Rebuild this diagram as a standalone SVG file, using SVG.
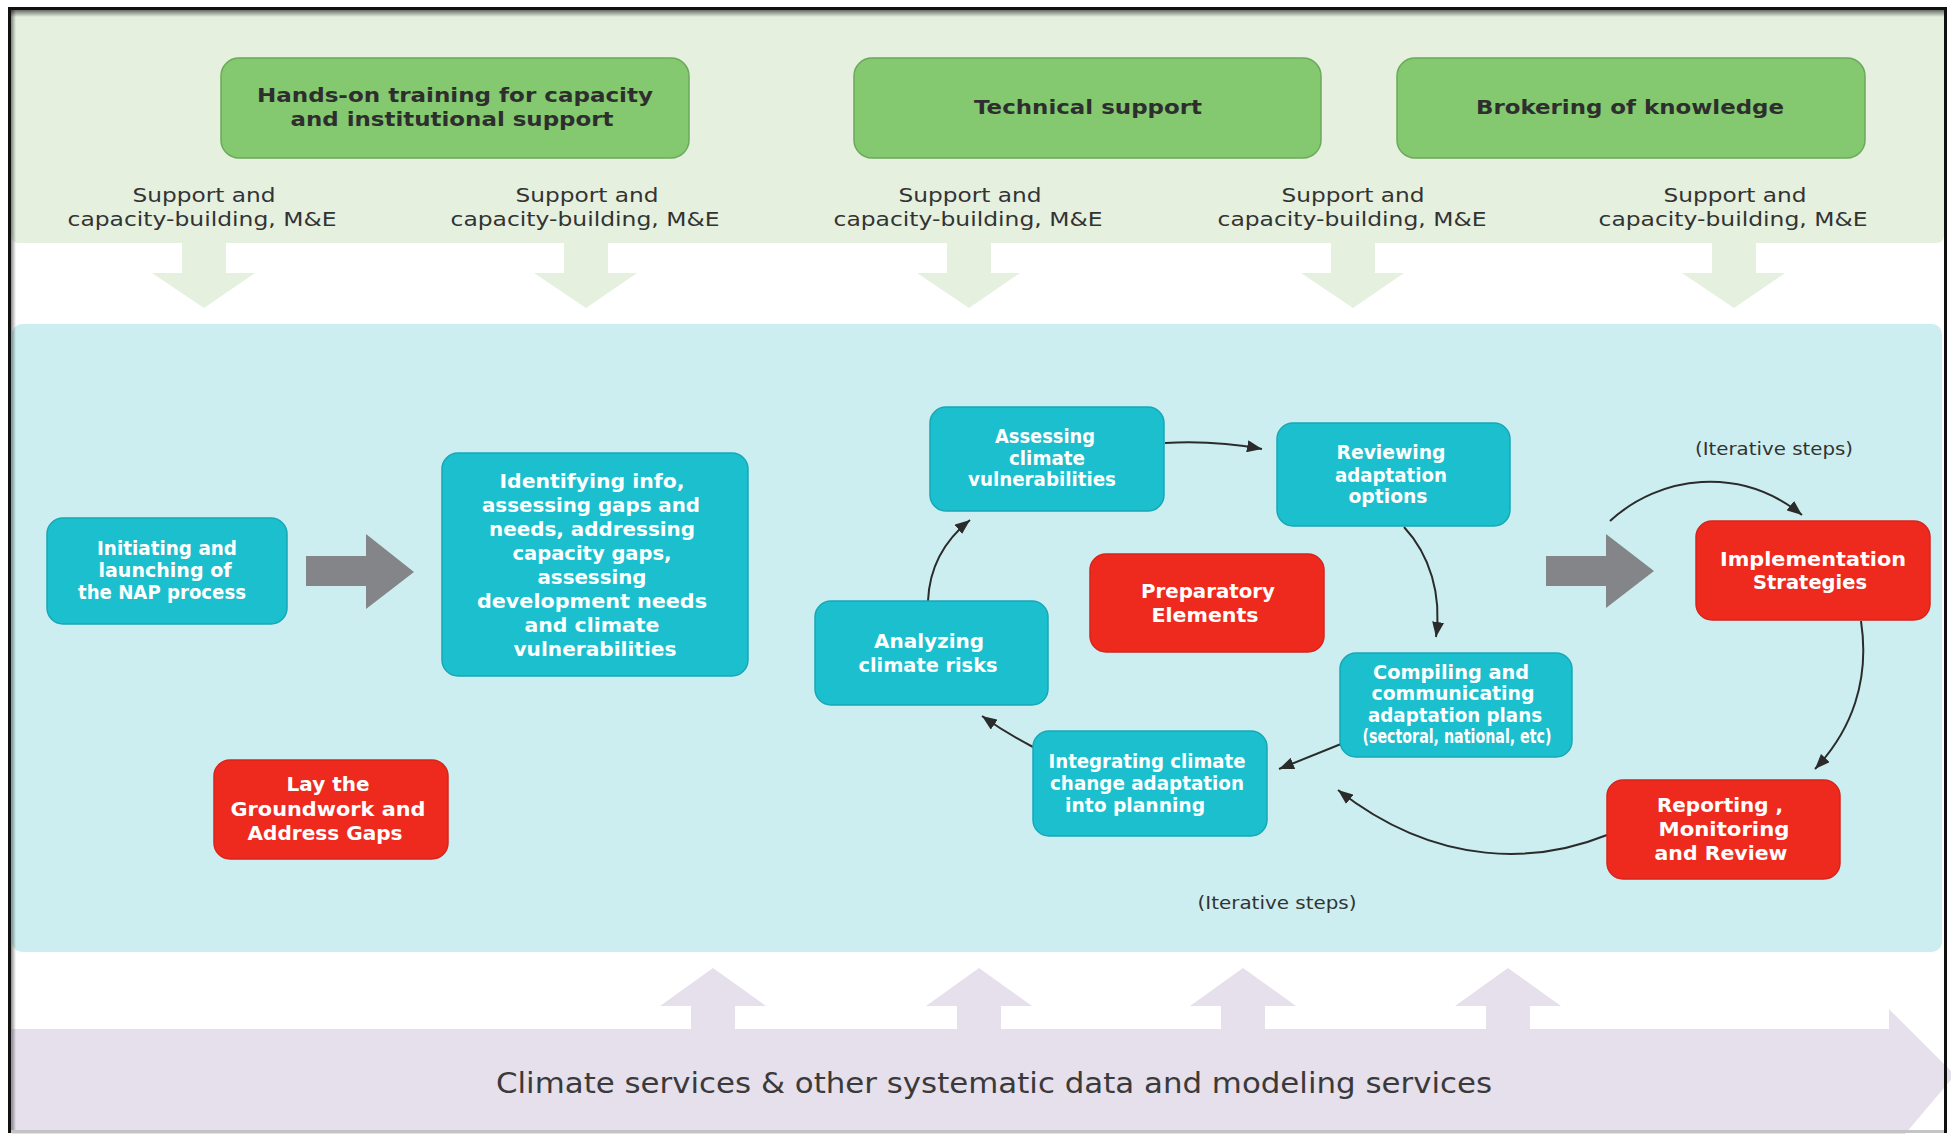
<svg xmlns="http://www.w3.org/2000/svg" width="1951" height="1134" viewBox="0 0 1951 1134">
<style>
.gbox{fill:#84c870;stroke:#6aa95a;stroke-width:1.5}
.tbox{fill:#1cbfce;stroke:#17a8b6;stroke-width:1.5}
.rbox{fill:#ee2a1f;stroke:#d8241b;stroke-width:1.5}
.gt{font-family:"DejaVu Sans","Liberation Sans",sans-serif;font-weight:bold;font-size:20px;fill:#2e2e2e;text-anchor:middle}
.st{font-family:"DejaVu Sans","Liberation Sans",sans-serif;font-size:19px;fill:#333;text-anchor:middle}
.wt{font-family:"DejaVu Sans","Liberation Sans",sans-serif;font-weight:bold;font-size:19px;fill:#fff;text-anchor:middle}
.it{font-family:"DejaVu Sans","Liberation Sans",sans-serif;font-size:17px;fill:#333;text-anchor:middle}
.con{fill:none;stroke:#2b2b2b;stroke-width:2;marker-end:url(#ah)}
.garr{fill:#e5f0df}
.parr{fill:#e6dfec}
.blk{fill:#848589}
</style>
<defs>
<marker id="ah" markerWidth="15" markerHeight="12" refX="15" refY="6" orient="auto" markerUnits="userSpaceOnUse">
<path d="M0,0 L15,6 L0,12 z" fill="#2b2b2b"/>
</marker>
<linearGradient id="shT" x1="0" y1="0" x2="0" y2="1">
<stop offset="0" stop-color="#000" stop-opacity="0.55"/>
<stop offset="1" stop-color="#000" stop-opacity="0"/>
</linearGradient>
<linearGradient id="shL" x1="0" y1="0" x2="1" y2="0">
<stop offset="0" stop-color="#000" stop-opacity="0.45"/>
<stop offset="1" stop-color="#000" stop-opacity="0"/>
</linearGradient>
</defs>

<rect x="0" y="0" width="1951" height="1134" fill="#fff"/>

<!-- bands -->
<g id="bands">
<path d="M11,10 H1944 V235 Q1944,243 1936,243 H19 Q11,243 11,235 Z" fill="#e5f0df"/>
<rect x="12" y="324" width="1930" height="628" rx="10" fill="#cdeef0"/>
<polygon points="12,1029 1889,1029 1889,1009 1955,1075 1905,1134 12,1134" fill="#e6dfec"/>
</g>

<!-- down arrows from support band -->
<g id="support-arrows">
<polygon class="garr" points="182,242 226,242 226,273 255,273 204,308 152,273 182,273"/>
<polygon class="garr" points="564,242 608,242 608,273 637,273 586,308 534,273 564,273"/>
<polygon class="garr" points="947,242 991,242 991,273 1020,273 969,308 917,273 947,273"/>
<polygon class="garr" points="1331,242 1375,242 1375,273 1404,273 1353,308 1301,273 1331,273"/>
<polygon class="garr" points="1712,242 1756,242 1756,273 1785,273 1734,308 1682,273 1712,273"/>
</g>

<!-- up arrows from climate services -->
<g id="service-arrows">
<polygon class="parr" points="691,1030 691,1006 660,1006 713,968 766,1006 735,1006 735,1030"/>
<polygon class="parr" points="957,1030 957,1006 926,1006 979,968 1032,1006 1001,1006 1001,1030"/>
<polygon class="parr" points="1221,1030 1221,1006 1190,1006 1243,968 1296,1006 1265,1006 1265,1030"/>
<polygon class="parr" points="1486,1030 1486,1006 1455,1006 1508,968 1561,1006 1530,1006 1530,1030"/>
</g>

<!-- frame -->
<g id="frame">
<rect x="11" y="10" width="1933" height="7" fill="url(#shT)"/>
<rect x="11" y="10" width="5" height="1120" fill="url(#shL)"/>
<line x1="9" y1="1131.5" x2="1945" y2="1131.5" stroke="#c4c4c4" stroke-width="3"/>
<path d="M9.5,1133 V8.5 H1945.5 V1133" fill="none" stroke="#111" stroke-width="3"/>
</g>

<!-- top support nodes -->
<g id="node-training">
<rect class="gbox" x="221" y="58" width="468" height="100" rx="18"/>
<text class="gt" x="455" y="102" textLength="396" lengthAdjust="spacingAndGlyphs">Hands-on training for capacity</text>
<text class="gt" x="452" y="126" textLength="323" lengthAdjust="spacingAndGlyphs">and institutional support</text>
</g>
<g id="node-technical">
<rect class="gbox" x="854" y="58" width="467" height="100" rx="18"/>
<text class="gt" x="1088" y="114" textLength="228" lengthAdjust="spacingAndGlyphs">Technical support</text>
</g>
<g id="node-brokering">
<rect class="gbox" x="1397" y="58" width="468" height="100" rx="18"/>
<text class="gt" x="1630" y="114" textLength="308" lengthAdjust="spacingAndGlyphs">Brokering of knowledge</text>
</g>

<g id="support-labels">
<text class="st" x="204" y="202" textLength="143" lengthAdjust="spacingAndGlyphs">Support and</text>
<text class="st" x="202" y="226" textLength="269" lengthAdjust="spacingAndGlyphs">capacity-building, M&amp;E</text>
<text class="st" x="587" y="202" textLength="143" lengthAdjust="spacingAndGlyphs">Support and</text>
<text class="st" x="585" y="226" textLength="269" lengthAdjust="spacingAndGlyphs">capacity-building, M&amp;E</text>
<text class="st" x="970" y="202" textLength="143" lengthAdjust="spacingAndGlyphs">Support and</text>
<text class="st" x="968" y="226" textLength="269" lengthAdjust="spacingAndGlyphs">capacity-building, M&amp;E</text>
<text class="st" x="1353" y="202" textLength="143" lengthAdjust="spacingAndGlyphs">Support and</text>
<text class="st" x="1352" y="226" textLength="269" lengthAdjust="spacingAndGlyphs">capacity-building, M&amp;E</text>
<text class="st" x="1735" y="202" textLength="143" lengthAdjust="spacingAndGlyphs">Support and</text>
<text class="st" x="1733" y="226" textLength="269" lengthAdjust="spacingAndGlyphs">capacity-building, M&amp;E</text>
</g>

<!-- big gray arrows -->
<g id="block-arrows">
<polygon class="blk" points="306,556 366,556 366,534 414,572 366,609 366,586 306,586"/>
<polygon class="blk" points="1546,556 1606,556 1606,534 1654,571 1606,608 1606,586 1546,586"/>
</g>

<!-- connectors -->
<g id="connectors">
<path class="con" d="M1165,443 C1200,441 1235,444 1262,449"/>
<path class="con" d="M1404,527 C1430,555 1442,595 1436,637"/>
<path class="con" d="M1341,744 L1279,769"/>
<path class="con" d="M1607,835 C1540,862 1440,870 1338,790"/>
<path class="con" d="M1033,747 Q1006,733 982,716"/>
<path class="con" d="M928,601 Q930,552 970,520"/>
<path class="con" d="M1610,521 C1660,475 1740,465 1802,515"/>
<path class="con" d="M1861,621 C1870,680 1852,730 1815,769"/>
</g>

<!-- process nodes -->
<g id="node-initiating">
<rect class="tbox" x="47" y="518" width="240" height="106" rx="16"/>
<text class="wt" x="167" y="555" textLength="140" lengthAdjust="spacingAndGlyphs">Initiating and</text>
<text class="wt" x="165" y="577" textLength="133" lengthAdjust="spacingAndGlyphs">launching of</text>
<text class="wt" x="162" y="599" textLength="168" lengthAdjust="spacingAndGlyphs">the NAP process</text>
</g>
<g id="node-identifying">
<rect class="tbox" x="442" y="453" width="306" height="223" rx="16"/>
<text class="wt" x="592" y="488" textLength="185" lengthAdjust="spacingAndGlyphs">Identifying info,</text>
<text class="wt" x="591" y="512" textLength="218" lengthAdjust="spacingAndGlyphs">assessing gaps and</text>
<text class="wt" x="592" y="536" textLength="206" lengthAdjust="spacingAndGlyphs">needs, addressing</text>
<text class="wt" x="592" y="560" textLength="159" lengthAdjust="spacingAndGlyphs">capacity gaps,</text>
<text class="wt" x="592" y="584" textLength="109" lengthAdjust="spacingAndGlyphs">assessing</text>
<text class="wt" x="592" y="608" textLength="230" lengthAdjust="spacingAndGlyphs">development needs</text>
<text class="wt" x="592" y="632" textLength="135" lengthAdjust="spacingAndGlyphs">and climate</text>
<text class="wt" x="595" y="656" textLength="163" lengthAdjust="spacingAndGlyphs">vulnerabilities</text>
</g>
<g id="node-laygroundwork">
<rect class="rbox" x="214" y="760" width="234" height="99" rx="16"/>
<text class="wt" x="328" y="791" textLength="83" lengthAdjust="spacingAndGlyphs">Lay the</text>
<text class="wt" x="328" y="816" textLength="195" lengthAdjust="spacingAndGlyphs">Groundwork and</text>
<text class="wt" x="325" y="840" textLength="155" lengthAdjust="spacingAndGlyphs">Address Gaps</text>
</g>
<g id="node-assessing">
<rect class="tbox" x="930" y="407" width="234" height="104" rx="16"/>
<text class="wt" x="1045" y="443" textLength="100" lengthAdjust="spacingAndGlyphs">Assessing</text>
<text class="wt" x="1047" y="465" textLength="76" lengthAdjust="spacingAndGlyphs">climate</text>
<text class="wt" x="1042" y="486" textLength="148" lengthAdjust="spacingAndGlyphs">vulnerabilities</text>
</g>
<g id="node-reviewing">
<rect class="tbox" x="1277" y="423" width="233" height="103" rx="16"/>
<text class="wt" x="1391" y="459" textLength="109" lengthAdjust="spacingAndGlyphs">Reviewing</text>
<text class="wt" x="1391" y="482" textLength="112" lengthAdjust="spacingAndGlyphs">adaptation</text>
<text class="wt" x="1388" y="503" textLength="79" lengthAdjust="spacingAndGlyphs">options</text>
</g>
<g id="node-preparatory">
<rect class="rbox" x="1090" y="554" width="234" height="98" rx="16"/>
<text class="wt" x="1208" y="598" textLength="134" lengthAdjust="spacingAndGlyphs">Preparatory</text>
<text class="wt" x="1205" y="622" textLength="107" lengthAdjust="spacingAndGlyphs">Elements</text>
</g>
<g id="node-analyzing">
<rect class="tbox" x="815" y="601" width="233" height="104" rx="16"/>
<text class="wt" x="929" y="648" textLength="110" lengthAdjust="spacingAndGlyphs">Analyzing</text>
<text class="wt" x="928" y="672" textLength="139" lengthAdjust="spacingAndGlyphs">climate risks</text>
</g>
<g id="node-integrating">
<rect class="tbox" x="1033" y="731" width="234" height="105" rx="16"/>
<text class="wt" x="1147" y="768" textLength="197" lengthAdjust="spacingAndGlyphs">Integrating climate</text>
<text class="wt" x="1147" y="790" textLength="194" lengthAdjust="spacingAndGlyphs">change adaptation</text>
<text class="wt" x="1135" y="812" textLength="140" lengthAdjust="spacingAndGlyphs">into planning</text>
</g>
<g id="node-compiling">
<rect class="tbox" x="1340" y="653" width="232" height="104" rx="16"/>
<text class="wt" x="1451" y="679" textLength="156" lengthAdjust="spacingAndGlyphs">Compiling and</text>
<text class="wt" x="1453" y="700" textLength="163" lengthAdjust="spacingAndGlyphs">communicating</text>
<text class="wt" x="1455" y="722" textLength="174" lengthAdjust="spacingAndGlyphs">adaptation plans</text>
<text class="wt" x="1457" y="743" font-size="14" textLength="189" lengthAdjust="spacingAndGlyphs">(sectoral, national, etc)</text>
</g>
<g id="node-implementation">
<rect class="rbox" x="1696" y="521" width="234" height="99" rx="16"/>
<text class="wt" x="1813" y="566" textLength="186" lengthAdjust="spacingAndGlyphs">Implementation</text>
<text class="wt" x="1810" y="589" textLength="114" lengthAdjust="spacingAndGlyphs">Strategies</text>
</g>
<g id="node-reporting">
<rect class="rbox" x="1607" y="780" width="233" height="99" rx="16"/>
<text class="wt" x="1720" y="812" textLength="126" lengthAdjust="spacingAndGlyphs">Reporting ,</text>
<text class="wt" x="1724" y="836" textLength="131" lengthAdjust="spacingAndGlyphs">Monitoring</text>
<text class="wt" x="1721" y="860" textLength="133" lengthAdjust="spacingAndGlyphs">and Review</text>
</g>

<g id="labels">
<text class="it" x="1774" y="455" textLength="158" lengthAdjust="spacingAndGlyphs">(Iterative steps)</text>
<text class="it" x="1277" y="909" textLength="159" lengthAdjust="spacingAndGlyphs">(Iterative steps)</text>
</g>

<g id="node-climate-services">
<text x="994" y="1093" font-family="DejaVu Sans, Liberation Sans, sans-serif" font-size="28" fill="#3a3a3a" text-anchor="middle" textLength="996" lengthAdjust="spacingAndGlyphs">Climate services &amp; other systematic data and modeling services</text>
</g>
</svg>
